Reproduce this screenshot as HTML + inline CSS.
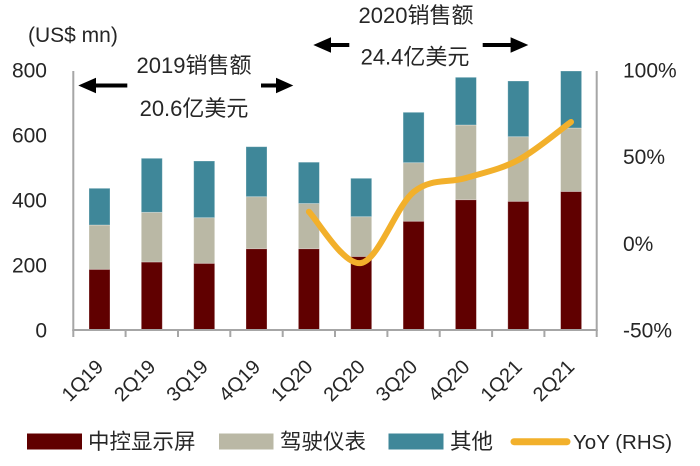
<!DOCTYPE html>
<html>
<head>
<meta charset="utf-8">
<style>
  html,body{margin:0;padding:0;background:#fff;}
  svg{display:block;}
  text{font-family:"Liberation Sans","Noto Sans CJK SC",sans-serif;fill:#262626;}
</style>
</head>
<body>
<svg width="700" height="466" viewBox="0 0 700 466" xmlns="http://www.w3.org/2000/svg">
  <text x="28" y="42" font-size="21">(US$ mn)</text>

  <g font-size="21" text-anchor="end">
    <text x="47" y="77.5">800</text>
    <text x="47" y="142.5">600</text>
    <text x="47" y="207.5">400</text>
    <text x="47" y="272.5">200</text>
    <text x="47" y="337.5">0</text>
  </g>
  <g font-size="21" text-anchor="start">
    <text x="623" y="77.5">100%</text>
    <text x="623" y="164">50%</text>
    <text x="623" y="250.8">0%</text>
    <text x="623" y="337.5">-50%</text>
  </g>

  <g stroke="#ffffff" stroke-opacity="0.35" stroke-width="0.8">
    <rect x="89" y="269.3" width="21" height="60.7" fill="#600000"/>
    <rect x="89" y="225" width="21" height="44.3" fill="#BAB8A5"/>
    <rect x="89" y="188.3" width="21" height="36.7" fill="#3F8799"/>
    <rect x="141.3" y="262" width="21" height="68" fill="#600000"/>
    <rect x="141.3" y="212.3" width="21" height="49.7" fill="#BAB8A5"/>
    <rect x="141.3" y="158.3" width="21" height="54" fill="#3F8799"/>
    <rect x="193.7" y="263.3" width="21" height="66.7" fill="#600000"/>
    <rect x="193.7" y="217.7" width="21" height="45.6" fill="#BAB8A5"/>
    <rect x="193.7" y="161" width="21" height="56.7" fill="#3F8799"/>
    <rect x="246" y="248.7" width="21" height="81.3" fill="#600000"/>
    <rect x="246" y="196.7" width="21" height="52" fill="#BAB8A5"/>
    <rect x="246" y="146.7" width="21" height="50" fill="#3F8799"/>
    <rect x="298.4" y="248.7" width="21" height="81.3" fill="#600000"/>
    <rect x="298.4" y="203.5" width="21" height="45.2" fill="#BAB8A5"/>
    <rect x="298.4" y="162.2" width="21" height="41.3" fill="#3F8799"/>
    <rect x="350.7" y="256.5" width="21" height="73.5" fill="#600000"/>
    <rect x="350.7" y="216.7" width="21" height="39.8" fill="#BAB8A5"/>
    <rect x="350.7" y="178.3" width="21" height="38.4" fill="#3F8799"/>
    <rect x="403.1" y="221.2" width="21" height="108.8" fill="#600000"/>
    <rect x="403.1" y="162.7" width="21" height="58.5" fill="#BAB8A5"/>
    <rect x="403.1" y="112.3" width="21" height="50.4" fill="#3F8799"/>
    <rect x="455.4" y="199.7" width="21" height="130.3" fill="#600000"/>
    <rect x="455.4" y="125" width="21" height="74.7" fill="#BAB8A5"/>
    <rect x="455.4" y="77.3" width="21" height="47.7" fill="#3F8799"/>
    <rect x="507.8" y="201.3" width="21" height="128.7" fill="#600000"/>
    <rect x="507.8" y="136.7" width="21" height="64.6" fill="#BAB8A5"/>
    <rect x="507.8" y="81" width="21" height="55.7" fill="#3F8799"/>
    <rect x="560.6" y="191.5" width="21" height="138.5" fill="#600000"/>
    <rect x="560.6" y="128" width="21" height="63.5" fill="#BAB8A5"/>
    <rect x="560.6" y="71" width="21" height="57" fill="#3F8799"/>
  </g>

  <g stroke="#A6A6A6" stroke-width="2" fill="none">
    <line x1="73.3" y1="71" x2="73.3" y2="331"/>
    <line x1="596.7" y1="71" x2="596.7" y2="331"/>
    <line x1="72.3" y1="330" x2="597.7" y2="330"/>
    <line x1="73.3" y1="330" x2="73.3" y2="337"/>
    <line x1="125.6" y1="330" x2="125.6" y2="337"/>
    <line x1="178" y1="330" x2="178" y2="337"/>
    <line x1="230.3" y1="330" x2="230.3" y2="337"/>
    <line x1="282.7" y1="330" x2="282.7" y2="337"/>
    <line x1="335" y1="330" x2="335" y2="337"/>
    <line x1="387.4" y1="330" x2="387.4" y2="337"/>
    <line x1="439.7" y1="330" x2="439.7" y2="337"/>
    <line x1="492.1" y1="330" x2="492.1" y2="337"/>
    <line x1="544.4" y1="330" x2="544.4" y2="337"/>
    <line x1="596.7" y1="330" x2="596.7" y2="337"/>
  </g>

  <path d="M308.9,211.7 C317.6,220.3 343.8,266.3 361.2,263 C378.7,259.7 396.2,206.2 413.6,192 C431.1,177.8 448.5,183.3 465.9,178 C483.4,172.7 500.9,169.3 518.3,160 C535.8,150.7 561.9,128.3 571,122"
        fill="none" stroke="#F2B02B" stroke-width="6" stroke-linecap="round" stroke-linejoin="round"/>

  <g font-size="20" text-anchor="end">
    <text transform="translate(104.5,368) rotate(-45)">1Q19</text>
    <text transform="translate(156.8,368) rotate(-45)">2Q19</text>
    <text transform="translate(209.2,368) rotate(-45)">3Q19</text>
    <text transform="translate(261.5,368) rotate(-45)">4Q19</text>
    <text transform="translate(313.9,368) rotate(-45)">1Q20</text>
    <text transform="translate(366.2,368) rotate(-45)">2Q20</text>
    <text transform="translate(418.6,368) rotate(-45)">3Q20</text>
    <text transform="translate(470.9,368) rotate(-45)">4Q20</text>
    <text transform="translate(523.3,368) rotate(-45)">1Q21</text>
    <text transform="translate(575.6,368) rotate(-45)">2Q21</text>
  </g>

  <g font-size="22" text-anchor="middle">
    <text x="194" y="73">2019销售额</text>
    <text x="194" y="116">20.6亿美元</text>
    <text x="416" y="23">2020销售额</text>
    <text x="415" y="64.5">24.4亿美元</text>
  </g>
  <g fill="#000">
    <polygon points="78.3,85.5 96,77.7 96,83.5 127.3,83.5 127.3,87.5 96,87.5 96,93.3"/>
    <polygon points="293.3,85.5 276,77.7 276,83.5 261,83.5 261,87.5 276,87.5 276,93.3"/>
    <polygon points="313.3,45 331,37.2 331,43 349.3,43 349.3,47 331,47 331,52.8"/>
    <polygon points="528.3,45 510.6,37.2 510.6,43 482.7,43 482.7,47 510.6,47 510.6,52.8"/>
  </g>

  <rect x="27" y="433.5" width="55" height="16" fill="#600000"/>
  <text x="88" y="449" font-size="21.5">中控显示屏</text>
  <rect x="219" y="433.5" width="54.5" height="16" fill="#BAB8A5"/>
  <text x="280" y="449" font-size="21.5">驾驶仪表</text>
  <rect x="388.5" y="433.5" width="55" height="16" fill="#3F8799"/>
  <text x="450" y="449" font-size="21.5">其他</text>
  <line x1="514" y1="441.7" x2="567" y2="441.7" stroke="#F2B02B" stroke-width="7" stroke-linecap="round"/>
  <text x="573" y="449" font-size="20.5">YoY (RHS)</text>
</svg>
</body>
</html>
